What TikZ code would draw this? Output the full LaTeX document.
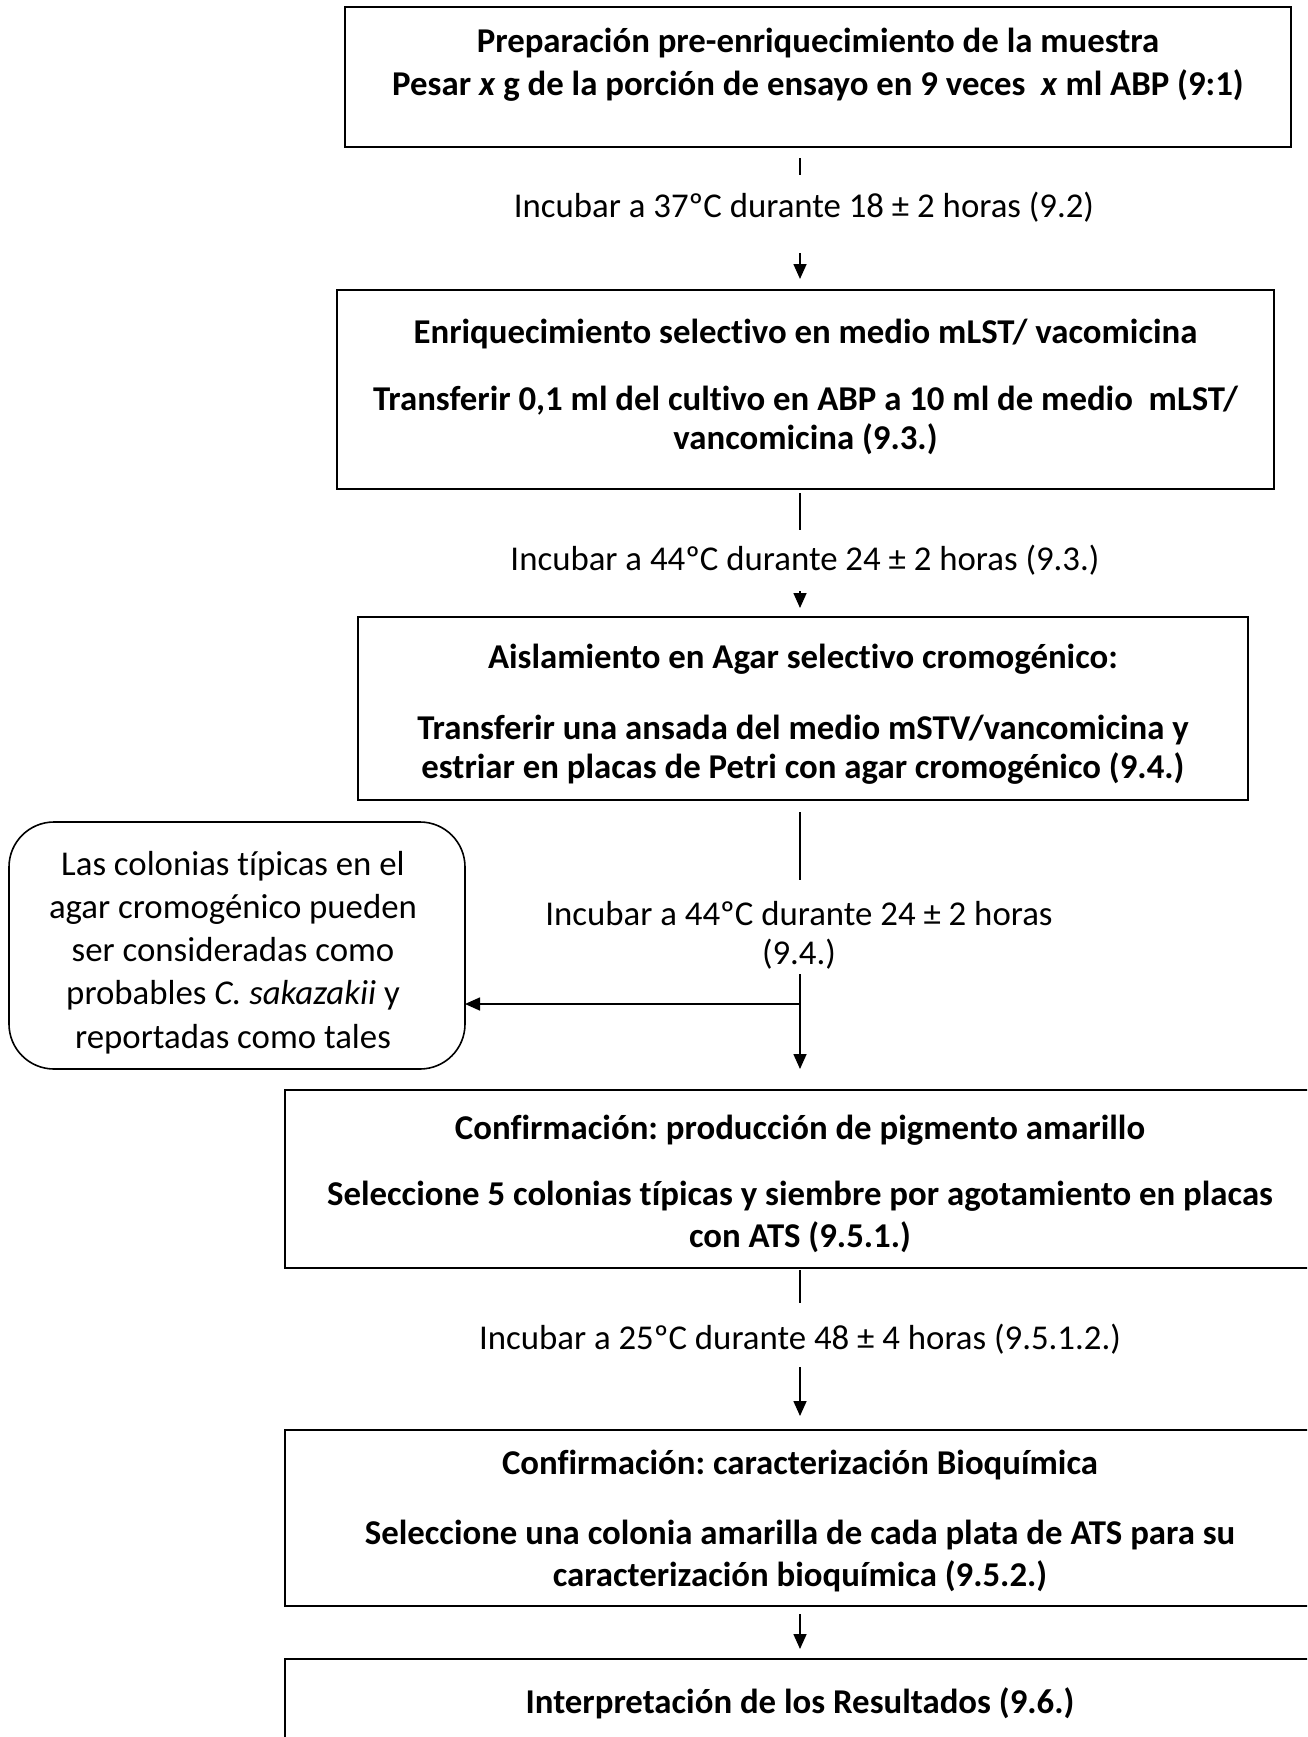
\documentclass[tikz,border=0pt]{standalone}
\usepackage{fontspec}
\setmainfont{Carlito}[Ligatures=NoCommon]
\usetikzlibrary{arrows.meta}
\frenchspacing
\begin{document}
\begin{tikzpicture}[x=1pt,y=-1pt,
  stepbox/.style={draw=black,line width=2pt,rectangle,inner sep=0pt,outer sep=0pt},
  notebox/.style={draw=black,line width=1.6pt,rectangle,rounded corners=45pt,inner sep=0pt,outer sep=0pt},
  notetext/.style={inner sep=0pt,align=center,font=\fontsize{34.8}{43.2}\selectfont},
  head/.style={anchor=base,inner sep=0pt,font=\fontsize{34.8}{42}\selectfont\bfseries},
  incub/.style={anchor=base,inner sep=0pt,align=center,font=\fontsize{34.8}{39}\selectfont},
  link/.style={line width=1.6pt},
  flow/.style={line width=1.6pt,-{Triangle[width=13pt,length=15pt]}}]
\useasboundingbox (0,0) rectangle (1307,1737);
\clip (0,0) rectangle (1307,1737);

% step boxes
\node[stepbox,minimum width=946pt,minimum height=140pt] (b1) at (818,77) {};
\node[stepbox,minimum width=937pt,minimum height=199pt] (b2) at (805.5,389.5) {};
\node[stepbox,minimum width=890pt,minimum height=183pt] (b3) at (803,708.5) {};
\node[stepbox,minimum width=1031pt,minimum height=178pt] (b4) at (800.3,1179) {};
\node[stepbox,minimum width=1031pt,minimum height=176pt] (b5) at (800.3,1518) {};
\node[stepbox,minimum width=1031pt,minimum height=104pt] (b6) at (800.3,1711) {};

% side note
\node[notebox,minimum width=456pt,minimum height=247pt] (note) at (237,945.5) {};
\node[notetext] (notet) at (233,952.5)
  {Las colonias típicas en el\\agar cromogénico pueden\\ser consideradas como\\probables \textit{C. sakazakii} y\\reportadas como tales};

% box texts
\node[head] (b1t) at (818,52.5) {Preparación pre-enriquecimiento de la muestra};
\node[head] (b1a) at (818,95.5) {Pesar \textit{x} g de la porción de ensayo en 9 veces \ \textit{x} ml ABP (9:1)};

\node[head] (b2t) at (805.5,343.5) {Enriquecimiento selectivo en medio mLST/ vacomicina};
\node[head] (b2a) at (805.5,410.5) {Transferir 0,1 ml del cultivo en ABP a 10 ml de medio \ mLST/};
\node[head] (b2b) at (805.5,449) {vancomicina (9.3.)};

\node[head] (b3t) at (803,668.5) {Aislamiento en Agar selectivo cromogénico:};
\node[head] (b3a) at (803,739) {Transferir una ansada del medio mSTV/vancomicina y};
\node[head] (b3b) at (803,778) {estriar en placas de Petri con agar cromogénico (9.4.)};

\node[head] (b4t) at (800,1139) {Confirmación: producción de pigmento amarillo};
\node[head] (b4a) at (800,1205.5) {Seleccione 5 colonias típicas y siembre por agotamiento en placas};
\node[head] (b4b) at (800,1247.5) {con ATS (9.5.1.)};

\node[head] (b5t) at (800,1474.5) {Confirmación: caracterización Bioquímica};
\node[head] (b5a) at (800,1544.5) {Seleccione una colonia amarilla de cada plata de ATS para su};
\node[head] (b5b) at (800,1586.5) {caracterización bioquímica (9.5.2.)};

\node[head] (b6t) at (800,1713.5) {Interpretación de los Resultados (9.6.)};

% incubation labels
\node[incub] (i1) at (804,217.5) {Incubar a 37ºC durante 18 ± 2 horas (9.2)};
\node[incub] (i2) at (805,570.5) {Incubar a 44ºC durante 24 ± 2 horas (9.3.)};
\node[incub] (i3) at (799,964) {Incubar a 44ºC durante 24 ± 2 horas\\(9.4.)};
\node[incub] (i4) at (800,1349.5) {Incubar a 25ºC durante 48 ± 4 horas (9.5.1.2.)};

% connector end points
\coordinate (c1a) at (800,158);  \coordinate (c1b) at (800,175);
\coordinate (c1c) at (800,253);  \coordinate (c1d) at (800,279);
\coordinate (c2a) at (800,493);  \coordinate (c2b) at (800,530);
\coordinate (c2c) at (800,591);  \coordinate (c2d) at (800,608);
\coordinate (c3a) at (800,812);  \coordinate (c3b) at (800,880);
\coordinate (c3c) at (800,974);  \coordinate (c3d) at (800,1069);
\coordinate (c3e) at (800,1004);
\coordinate (c4a) at (800,1270); \coordinate (c4b) at (800,1303);
\coordinate (c4c) at (800,1367); \coordinate (c4d) at (800,1416);
\coordinate (c5a) at (800,1614); \coordinate (c5b) at (800,1649);

% connectors
\draw[link] (c1a) -- (c1b);
\draw[flow] (c1c) -- (c1d);
\draw[link] (c2a) -- (c2b);
\draw[flow] (c2c) -- (c2d);
\draw[link] (c3a) -- (c3b);
\draw[flow] (c3c) -- (c3d);
\draw[flow] (c3e) -- (c3e -| note.east);
\draw[link] (c4a) -- (c4b);
\draw[flow] (c4c) -- (c4d);
\draw[flow] (c5a) -- (c5b);
\end{tikzpicture}
\end{document}
